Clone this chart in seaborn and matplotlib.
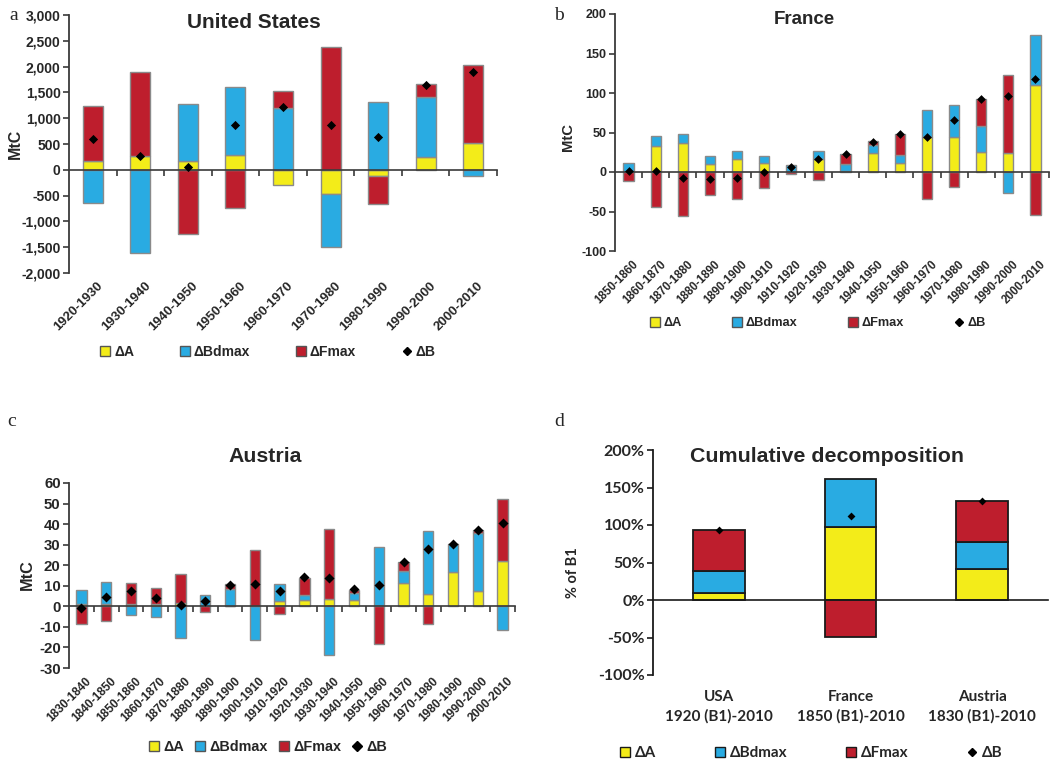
import numpy as np
import matplotlib
matplotlib.use("Agg")
import matplotlib.pyplot as plt
import matplotlib.ticker as mticker
import matplotlib.transforms as mtransforms
from matplotlib.lines import Line2D
import seaborn as sns

# -------------------------------
# Data
# -------------------------------
us_periods = ["1920-1930", "1930-1940", "1940-1950", "1950-1960", "1960-1970",
              "1970-1980", "1980-1990", "1990-2000", "2000-2010"]
us_dA = [170, 277, 174, 284, -303, -471, -123, 239, 529]
us_dBd = [-640, -1613, 1110, 1329, 1194, -1019, 1323, 1180, -129]
us_dF = [1075, 1613, -1239, -748, 341, 2374, -548, 239, 1497]
us_dB = [606, 265, 45, 871, 1219, 877, 639, 1652, 1890]

fr_periods = ["1850-1860", "1860-1870", "1870-1880", "1880-1890", "1890-1900",
              "1900-1910", "1910-1920", "1920-1930", "1930-1940", "1940-1950",
              "1950-1960", "1960-1970", "1970-1980", "1980-1990", "1990-2000",
              "2000-2010"]
fr_dA = [0.5, 33.4, 36.8, 9.7, 16, 11, -0.5, 17, 1, 24.5, 11.4, 44, 44.4, 25.3, 23.7, 110.7]
fr_dBd = [11.3, 11.8, 11.8, 11, 10.6, 9.7, 8.5, 9.2, 9, 9.7, 10.1, 34.2, 40.1, 33.4, -27, 62.1]
fr_dF = [-11, -44, -55.8, -28.7, -33.8, -20.3, -1.5, -10, 12.4, 4.7, 27.1, -34.6, -18.6, 34.2, 99.7, -54]
fr_dB = [1.5, 1.3, -7.2, -8.4, -7.6, 0, 6, 16.5, 22.4, 38, 48.6, 44, 65.9, 92.9, 95.9, 118.3]

at_periods = ["1830-1840", "1840-1850", "1850-1860", "1860-1870", "1870-1880",
              "1880-1890", "1890-1900", "1900-1910", "1910-1920", "1920-1930",
              "1930-1940", "1940-1950", "1950-1960", "1960-1970", "1970-1980",
              "1980-1990", "1990-2000", "2000-2010"]
at_dA = [1.1, 1.1, 1.1, 1.1, 1.8, 0, 0, 0, 2.6, 2.9, 3.7, 3.2, 0, 11.4, 6.2, 16.7, 7.6, 22.2]
at_dBd = [6.7, 10.7, -4, -5.2, -15.2, 5.5, 8.4, -16.2, 8.1, 2.8, -23.7, 3.1, 28.9, 5.6, 30.3, 13.8, 28.2, -11.4]
at_dF = [-8.4, -7.3, 10.4, 8, 14.1, -2.9, 2.3, 27.2, -3.7, 8.2, 34.1, 1.8, -18.5, 4.6, -8.4, 0, 1.5, 29.9]
at_dB = [-0.6, 4.7, 7.5, 4.1, 0.6, 2.6, 10.5, 11, 7.3, 14.1, 13.9, 8.3, 10.5, 21.6, 28.1, 30.3, 37, 40.5]

cum_labels = ["USA\n1920 (B1)-2010", "France\n1850 (B1)-2010", "Austria\n1830 (B1)-2010"]
cum_dA = [8.9, 96.9, 40.9]
cum_dBd = [29.8, 64.9, 36.9]
cum_dF = [54.7, -49.8, 54.7]
cum_dB = [92.9, 112, 132.4]

series_names = ["\u0394A", "\u0394Bdmax", "\u0394Fmax", "\u0394B"]
colors = ["#F3EC19", "#29ABE2", "#BE1E2D"]

# -------------------------------
# Style
# -------------------------------
sns.set_style("white")
plt.rcParams["font.family"] = ["Liberation Sans", "DejaVu Sans"]
plt.rcParams["font.weight"] = "bold"

W, H = 1063, 762
fig = plt.figure(figsize=(W / 100, H / 100), dpi=100)


def rect(x0, y0, x1, y1):
    return [x0 / W, 1 - y1 / H, (x1 - x0) / W, (y1 - y0) / H]


def stacked(ax, values, width, edge, lw):
    vals = np.array(values, dtype=float)
    x = np.arange(vals.shape[1])
    pos = np.zeros(vals.shape[1])
    neg = np.zeros(vals.shape[1])
    for v, c in zip(vals, colors):
        bottom = np.where(v >= 0, pos, neg)
        ax.bar(x, v, width=width, bottom=bottom, color=c, edgecolor=edge,
               linewidth=lw, zorder=2)
        pos = pos + np.clip(v, 0, None)
        neg = neg + np.clip(v, None, 0)
    return x


def style_axes(ax, n, ylim, yticks, spine_col="#3a3a3a"):
    ax.set_xlim(-0.5, n - 0.5)
    ax.set_ylim(*ylim)
    ax.set_yticks(yticks)
    for s in ["top", "right"]:
        ax.spines[s].set_visible(False)
    ax.spines["left"].set_color(spine_col)
    ax.spines["left"].set_linewidth(1.3)
    ax.spines["bottom"].set_position(("data", 0))
    ax.spines["bottom"].set_color(spine_col)
    ax.spines["bottom"].set_linewidth(1.2)
    ax.spines["bottom"].set_zorder(3)
    ax.tick_params(axis="y", left=True, direction="out", length=4, width=1.2,
                   color=spine_col, pad=2)
    ax.grid(False)


def period_labels(ax, labels, fs, dx=4, dy=7):
    tr = mtransforms.offset_copy(ax.get_xaxis_transform(), fig=fig, x=dx, y=-dy, units="dots")
    for i, lab in enumerate(labels):
        ax.text(i, 0, lab, transform=tr, rotation=45, rotation_mode="anchor",
                ha="right", va="top", fontsize=fs, fontweight="bold")


def legend_handles(edge, msize, dsize):
    hs = [Line2D([], [], marker="s", linestyle="none", markerfacecolor=c,
                 markeredgecolor=edge, markeredgewidth=1.0, markersize=msize) for c in colors]
    hs.append(Line2D([], [], marker="D", linestyle="none", color="black", markersize=dsize))
    return hs


def category_panel(rc, labels, dA, dBd, dF, dB, ylim, yticks, fmt, width,
                   tick_fs, lab_fs, msize):
    ax = fig.add_axes(rect(*rc))
    x = stacked(ax, [dA, dBd, dF], width, "#8a8a8a", 1.0)
    sns.scatterplot(x=x, y=dB, marker="D", s=msize, color="black", linewidth=0,
                    ax=ax, zorder=5, legend=False)
    style_axes(ax, len(labels), ylim, yticks)
    bounds = np.arange(len(labels) + 1) - 0.5
    ax.set_xticks(bounds[1:])
    ax.set_xticklabels([])
    ax.tick_params(axis="x", bottom=True, direction="out", length=4, width=1.2,
                   color="#3a3a3a")
    ax.yaxis.set_major_formatter(mticker.FuncFormatter(fmt))
    for t in ax.get_yticklabels():
        t.set_fontsize(tick_fs)
        t.set_fontweight("bold")
    period_labels(ax, labels, lab_fs)
    return ax


# -------------------------------
# a  United States
# -------------------------------
ax_a = category_panel((69, 15, 497, 273), us_periods, us_dA, us_dBd, us_dF, us_dB,
                      (-2000, 3000), np.arange(-2000, 3001, 500),
                      lambda v, p: f"{v:,.0f}", 0.42, 10, 9.5, 22)
fig.text(254 / W, 1 - 22 / H, "United States", ha="center", va="center",
         fontsize=15, fontweight="bold")
fig.text(15 / W, 1 - 144 / H, "MtC", rotation=90, ha="center", va="center",
         fontsize=11.5, fontweight="bold")
fig.legend(handles=legend_handles("#555555", 7, 4.5), labels=series_names, ncol=4,
           loc="center", bbox_to_anchor=(268 / W, 1 - 352 / H), frameon=False,
           prop={"size": 10, "weight": "bold"}, handlelength=0.7,
           handletextpad=0.3, columnspacing=3.3)

# -------------------------------
# b  France
# -------------------------------
ax_b = category_panel((615, 14, 1049, 251), fr_periods, fr_dA, fr_dBd, fr_dF, fr_dB,
                      (-100, 200), np.arange(-100, 201, 50),
                      lambda v, p: f"{v:.0f}", 0.38, 9, 8.3, 20)
fig.text(804 / W, 1 - 20 / H, "France", ha="center", va="center",
         fontsize=13.5, fontweight="bold")
fig.text(568 / W, 1 - 137 / H, "MtC", rotation=90, ha="center", va="center",
         fontsize=10.7, fontweight="bold")
fig.legend(handles=legend_handles("#555555", 6.5, 4.5), labels=series_names, ncol=4,
           loc="center", bbox_to_anchor=(818 / W, 1 - 323 / H), frameon=False,
           prop={"size": 9.2, "weight": "bold"}, handlelength=0.7,
           handletextpad=0.3, columnspacing=4.0)

# -------------------------------
# c  Austria
# -------------------------------
ax_c = category_panel((69, 483, 515, 668), at_periods, at_dA, at_dBd, at_dF, at_dB,
                      (-30, 60), np.arange(-30, 61, 10),
                      lambda v, p: f"{v:.0f}", 0.42, 10.8, 8.6, 26)
fig.text(265 / W, 1 - 456 / H, "Austria", ha="center", va="center",
         fontsize=15.3, fontweight="bold")
fig.text(27 / W, 1 - 575 / H, "MtC", rotation=90, ha="center", va="center",
         fontsize=11.7, fontweight="bold")
fig.legend(handles=legend_handles("#555555", 7, 5), labels=series_names, ncol=4,
           loc="center", bbox_to_anchor=(268 / W, 1 - 747 / H), frameon=False,
           prop={"size": 10.4, "weight": "bold"}, handlelength=0.7,
           handletextpad=0.3, columnspacing=0.75)

# -------------------------------
# d  Cumulative decomposition
# -------------------------------
calibri_like = ["Lato", "DejaVu Sans"]
ax_d = fig.add_axes(rect(653, 450, 1048, 675))
xd = stacked(ax_d, [cum_dA, cum_dBd, cum_dF], 0.39, "#1a1a1a", 1.3)
sns.scatterplot(x=xd, y=cum_dB, marker="D", s=16, color="black", linewidth=0,
                ax=ax_d, zorder=5, legend=False)
style_axes(ax_d, 3, (-100, 200), np.arange(-100, 201, 50), spine_col="#1a1a1a")
ax_d.set_xticks([])
ax_d.yaxis.set_major_formatter(mticker.FuncFormatter(lambda v, p: f"{v:.0f}%"))
for t in ax_d.get_yticklabels():
    t.set_fontsize(11.5)
    t.set_family(calibri_like)
    t.set_fontweight("bold")
tr_d = mtransforms.offset_copy(ax_d.get_xaxis_transform(), fig=fig, x=0, y=-15, units="dots")
for i, lab in enumerate(cum_labels):
    ax_d.text(i, 0, lab, transform=tr_d, ha="center", va="top", fontsize=11,
              family=calibri_like, fontweight="bold", linespacing=1.45)
fig.text(827 / W, 1 - 456 / H, "Cumulative decomposition", ha="center", va="center",
         fontsize=15.4, fontweight="bold")
fig.text(573 / W, 1 - 573 / H, "% of B1", rotation=90, ha="center", va="center",
         fontsize=10.5, family=calibri_like, fontweight="bold")
fig.legend(handles=legend_handles("#1a1a1a", 7, 4), labels=series_names, ncol=4,
           loc="center", bbox_to_anchor=(811 / W, 1 - 753 / H), frameon=False,
           prop={"size": 11, "weight": "bold", "family": calibri_like}, handlelength=0.7,
           handletextpad=0.3, columnspacing=3.8)

# -------------------------------
# Panel letters
# -------------------------------
for lab, px, py in [("a", 14, 15), ("b", 559, 15), ("c", 12, 421), ("d", 559, 421)]:
    fig.text(px / W, 1 - py / H, lab, ha="center", va="center", fontsize=14,
             family=["Liberation Serif", "DejaVu Serif"], fontweight="normal")

fig.savefig("out.png", dpi=100)
